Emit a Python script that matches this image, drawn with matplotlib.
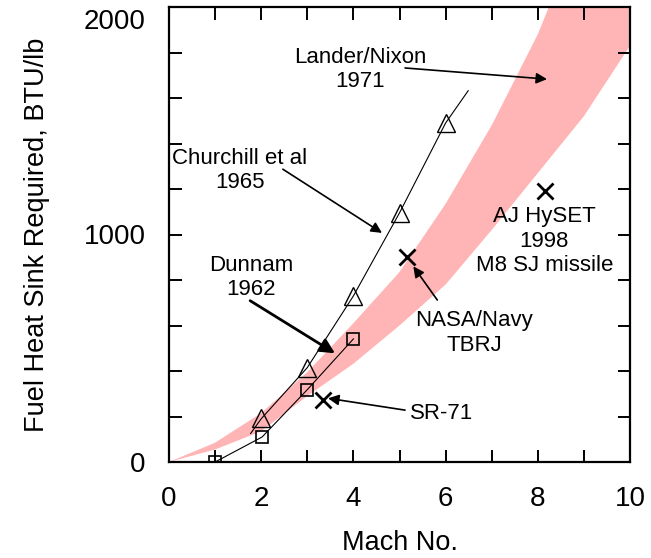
import numpy as np
import matplotlib.pyplot as plt
from matplotlib.ticker import MultipleLocator, FixedLocator

plt.rcParams['font.family'] = ['Liberation Sans', 'DejaVu Sans']

# pink band (range of fuel heat sink requirement)
band_up_mach = [0, 1, 2, 3, 4, 5, 6, 7, 8, 8.4, 9, 10]
band_up_val = [0, 85, 215, 395, 610, 835, 1135, 1480, 1880, 2080, 2350, 2800]
band_lo_mach = [0, 1, 2, 3, 4, 5, 6, 7, 8, 9, 10]
band_lo_val = [0, 55, 135, 290, 432, 600, 780, 1020, 1270, 1520, 1830]

# Churchill et al 1965 (triangles) and its curve
church_mach = [2, 3, 4, 5, 6]
church_val = [193, 412, 731, 1096, 1490]
church_line_mach = [1.77, 2, 3, 4, 5, 6, 6.49]
church_line_val = [125, 190, 415, 730, 1095, 1490, 1632]

# Dunnam 1962 (squares)
dunnam_mach = [1, 2.02, 3.0, 4.0]
dunnam_val = [0, 110, 318, 541]

# single vehicles (X marks)
x_mach = [3.35, 5.16, 8.16]
x_val = [271, 902, 1191]

fig = plt.figure(figsize=(6.51, 5.58), dpi=100)
ax = fig.add_axes([169/651, 96/558, 461/651, 455/558])

poly_x = band_up_mach + band_lo_mach[::-1]
poly_y = band_up_val + band_lo_val[::-1]
ax.fill(poly_x, poly_y, color='#ffb5b5', lw=0, zorder=1)

ax.plot(church_line_mach, church_line_val, color='k', lw=0.8, zorder=3)
ax.plot(church_mach, church_val, ls='none', marker='^', ms=13.5, mfc='none',
        mec='k', mew=1.0, zorder=4)
ax.plot(dunnam_mach, dunnam_val, color='k', lw=0.8, marker='s', ms=9,
        mfc='none', mec='k', mew=1.2, zorder=4)
ax.plot(x_mach, x_val, ls='none', marker='x', ms=12, mec='k', mew=2.0, zorder=4)

txt = dict(fontsize=16, ha='center', va='center', linespacing=1.2)
thin = dict(arrowstyle='-|>', color='k', lw=1.2, mutation_scale=16,
            shrinkA=0, shrinkB=0)
thick = dict(arrowstyle='-|>', color='k', lw=2.0, mutation_scale=22,
             shrinkA=0, shrinkB=0)

ax.text(4.15, 1727, 'Lander/Nixon\n1971', **txt)
ax.annotate('', xy=(8.2, 1683), xytext=(5.12, 1732), arrowprops=thin)

ax.text(1.54, 1283, 'Churchill et al\n1965', **txt)
ax.annotate('', xy=(4.62, 1007), xytext=(2.47, 1287), arrowprops=thin)

ax.text(1.78, 810, 'Dunnam\n1962', **txt)
ax.annotate('', xy=(3.6, 478), xytext=(1.76, 709), arrowprops=thick)

ax.text(5.23, 215, 'SR-71', fontsize=16, ha='left', va='center')
ax.annotate('', xy=(3.45, 280), xytext=(5.12, 228), arrowprops=thin)

ax.text(6.62, 567, 'NASA/Navy\nTBRJ', **txt)
ax.annotate('', xy=(5.3, 860), xytext=(5.82, 712), arrowprops=thin)

ax.text(8.14, 971, 'AJ HySET\n1998\nM8 SJ missile', **txt)

ax.set_xlim(0, 10)
ax.set_ylim(0, 2000)
ax.xaxis.set_major_locator(FixedLocator([0, 2, 4, 6, 8, 10]))
ax.xaxis.set_minor_locator(MultipleLocator(1))
ax.yaxis.set_major_locator(FixedLocator([0, 1000]))
ax.yaxis.set_minor_locator(MultipleLocator(200))
ax.tick_params(which='both', direction='in', length=9, width=1.4,
               top=True, right=True, labelsize=20, pad=17)
# top label sits a little below the top spine, as in the source figure
ax.annotate('2000', xy=(0, 2000), xycoords='data', xytext=(-17, -11),
            textcoords='offset points', ha='right', va='center', fontsize=20)

for s in ax.spines.values():
    s.set_linewidth(1.6)

ax.set_xlabel('Mach No.', fontsize=19.5, labelpad=13.5)
ax.set_ylabel('Fuel Heat Sink Required, BTU/lb', fontsize=19.5, labelpad=24)

fig.savefig('out.png', dpi=100)
